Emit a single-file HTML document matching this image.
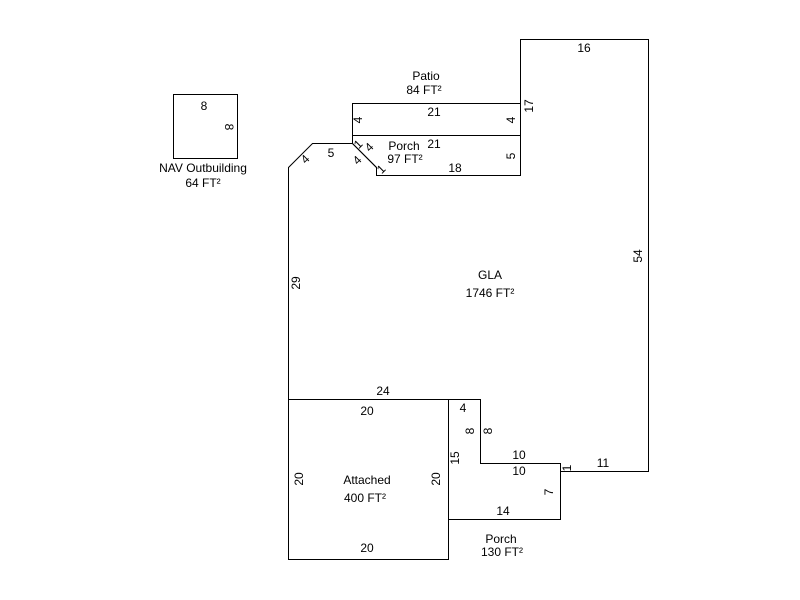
<!DOCTYPE html>
<html><head><meta charset="utf-8"><style>body{margin:0;background:#fff}svg{display:block}</style></head>
<body>
<svg width="800" height="600" xmlns="http://www.w3.org/2000/svg" font-family="Liberation Sans, Arial, sans-serif" font-size="12" fill="#000">
<g fill="none" stroke="#000" stroke-width="1">
<rect x="173.5" y="94.5" width="64" height="64"/>
<polygon points="288.5,399.5 288.5,167.5 312.5,143.5 352.5,143.5 376.5,167.5 376.5,175.5 520.5,175.5 520.5,39.5 648.5,39.5 648.5,471.5 560.5,471.5 560.5,463.5 480.5,463.5 480.5,399.5"/>
<rect x="352.5" y="103.5" width="168" height="32"/>
<polygon points="352.5,135.5 520.5,135.5 520.5,175.5 376.5,175.5 376.5,167.5 352.5,143.5"/>
<rect x="288.5" y="399.5" width="160" height="160"/>
<polygon points="448.5,399.5 480.5,399.5 480.5,463.5 560.5,463.5 560.5,519.5 448.5,519.5"/>
</g>
<g text-anchor="middle">
<text x="204" y="110">8</text>
<text transform="translate(225,127) rotate(90)">8</text>
<text x="203" y="172">NAV Outbuilding</text>
<text x="203" y="187">64 FT²</text>
<text x="426" y="80">Patio</text>
<text x="424" y="94">84 FT²</text>
<text x="434" y="116">21</text>
<text transform="translate(362,120) rotate(-90)">4</text>
<text transform="translate(515,120) rotate(-90)">4</text>
<text transform="translate(533,106) rotate(-90)">17</text>
<text x="584" y="52">16</text>
<text x="434" y="148">21</text>
<text x="404" y="150">Porch</text>
<text x="405" y="163">97 FT²</text>
<text x="455" y="172">18</text>
<text transform="translate(515,156) rotate(-90)">5</text>
<text transform="translate(361,147) rotate(-45)">1</text>
<text transform="translate(372,150) rotate(-45)">4</text>
<text transform="translate(360,163) rotate(-45)">4</text>
<text transform="translate(384,172) rotate(-45)">1</text>
<text x="331" y="157">5</text>
<text transform="translate(308,162) rotate(-45)">4</text>
<text transform="translate(300,283) rotate(-90)">29</text>
<text x="490" y="279">GLA</text>
<text x="490" y="297">1746 FT²</text>
<text transform="translate(642,256) rotate(-90)">54</text>
<text x="383" y="395">24</text>
<text x="367" y="415">20</text>
<text transform="translate(303,479) rotate(-90)">20</text>
<text transform="translate(440,479) rotate(-90)">20</text>
<text x="367" y="484">Attached</text>
<text x="365" y="502">400 FT²</text>
<text x="367" y="552">20</text>
<text x="463" y="412">4</text>
<text transform="translate(474,431) rotate(-90)">8</text>
<text transform="translate(492,431) rotate(-90)">8</text>
<text transform="translate(459,458) rotate(-90)">15</text>
<text x="519" y="459">10</text>
<text x="519" y="475">10</text>
<text transform="translate(571,468) rotate(-90)">1</text>
<text x="603" y="467">11</text>
<text transform="translate(553,492) rotate(-90)">7</text>
<text x="503" y="515">14</text>
<text x="501" y="543">Porch</text>
<text x="502" y="556">130 FT²</text>
</g>
</svg>
</body></html>
